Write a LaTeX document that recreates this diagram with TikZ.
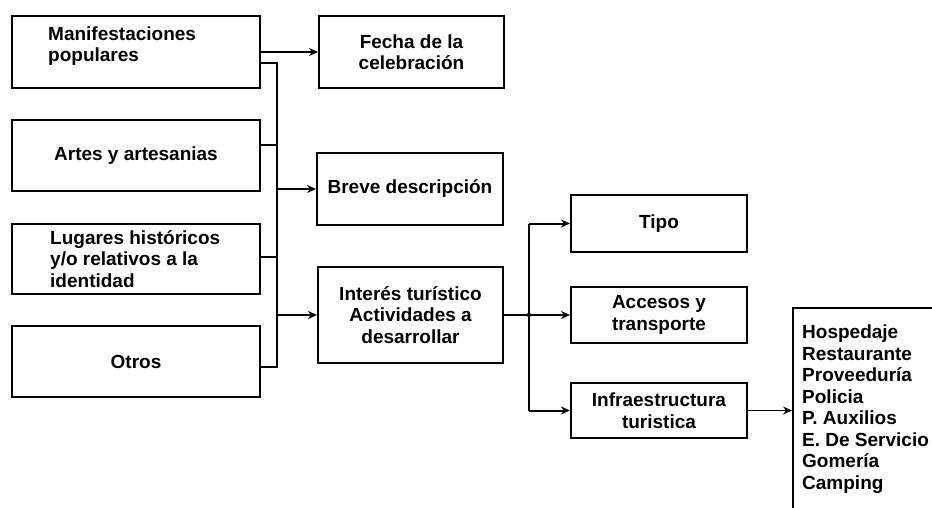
\documentclass[tikz,border=0pt]{standalone}
\usepackage{fontspec}
\setmainfont{Liberation Sans}
\usetikzlibrary{arrows.meta}
\begin{document}
\begin{tikzpicture}[x=1pt,y=-1pt,
  box/.style={draw, line width=2pt, rectangle, inner sep=0pt},
  txt/.style={font=\bfseries\fontsize{19}{21.5}\selectfont, inner sep=0pt},
  conn/.style={line width=2pt},
  arr/.style={line width=2pt, -{Stealth[length=9pt,width=8pt]}},
  thinarr/.style={line width=1.2pt, -{Stealth[length=9pt,width=8pt]}}
]
\useasboundingbox[fill=white] (0,0) rectangle (932,508);

% left column
\node[box, minimum width=248pt, minimum height=72pt] (m1) at (136,52) {};
\node[txt, anchor=west, align=left] (m1t) at (48,46) {Manifestaciones\\populares};
\node[box, txt, minimum width=248pt, minimum height=71pt] (m2) at (136,155.5) {Artes y artesanias};
\node[box, minimum width=248pt, minimum height=70pt] (m3) at (136,259) {};
\node[txt, anchor=west, align=left] (m3t) at (50,259) {Lugares históricos\\y/o relativos a la\\identidad};
\node[box, txt, minimum width=248pt, minimum height=71pt] (m4) at (136,361.5) {Otros};

% middle column
\node[box, txt, align=center, minimum width=185pt, minimum height=72pt] (fecha) at (411.5,52) {Fecha de la\\celebración};
\node[box, txt, minimum width=186pt, minimum height=72pt] (breve) at (410,189) {Breve descripción};
\node[box, txt, align=center, minimum width=185pt, minimum height=96pt] (interes) at (410.5,315) {Interés turístico\\Actividades a\\desarrollar};

% right column
\node[box, txt, minimum width=176pt, minimum height=57pt] (tipo) at (659,223.5) {Tipo};
\node[box, txt, align=center, minimum width=176pt, minimum height=56pt] (accesos) at (659,315) {Accesos y\\transporte};
\node[box, txt, align=center, minimum width=176pt, minimum height=55pt] (infra) at (659,410.5) {Infraestructura\\turistica};

% list (open box)
\draw[line width=2pt] (932,308) -- (793,308) -- (793,508);
\coordinate (lst) at (792,410.5);
\node[txt, anchor=west, align=left] (list) at (802,409) {Hospedaje\\Restaurante\\Proveeduría\\Policia\\P. Auxilios\\E. De Servicio\\Gomería\\Camping};

% bus from left boxes
\coordinate (b1) at (277,63);
\coordinate (b2) at (277,145);
\coordinate (b3) at (277,257);
\coordinate (b4) at (277,367);
\draw[conn] (m1.east |- b1) -- (b1) -- (b4) -- (m4.east |- b4);
\draw[conn] (m2.east |- b2) -- (b2);
\draw[conn] (m3.east |- b3) -- (b3);
\draw[arr] (m1.east) -- (fecha.west);
\draw[arr] (b1 |- breve.west) -- (breve.west);
\draw[arr] (b1 |- interes.west) -- (interes.west);

% branch from Interes
\coordinate (j) at (529,315);
\draw[conn] (interes.east) -- (j);
\draw[conn] (j |- tipo.west) -- (j |- infra.west);
\fill (j) circle (2.2pt);
\draw[arr] (j |- tipo.west) -- (tipo.west);
\draw[arr] (j) -- (accesos.west);
\draw[arr] (j |- infra.west) -- (infra.west);
\draw[thinarr] (infra.east) -- (lst);
\end{tikzpicture}
\end{document}
